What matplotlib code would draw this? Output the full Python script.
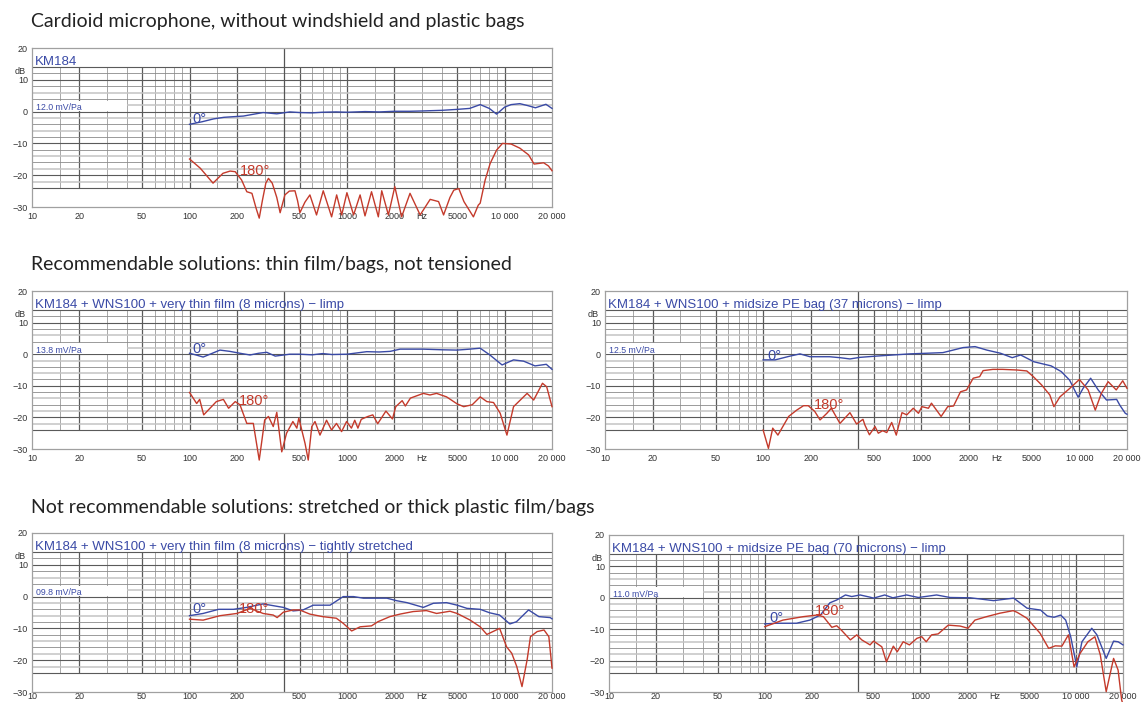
import matplotlib.pyplot as plt
from matplotlib.patches import Rectangle

# ---- data (frequency in Hz, level in dB) ----
# panel 1: KM184 bare
p1_f0 = [100, 120, 142, 165, 190, 220, 250, 293, 358, 433, 500, 600, 700, 850, 1000, 1300, 1600,
         2000, 2500, 3000, 4000, 5000, 6000, 7000, 8000, 8900, 10000, 11000, 12500, 14000, 15700,
         18300, 20000]
p1_db0 = [-4.0, -3.2, -2.3, -1.8, -1.6, -1.4, -0.9, -0.3, -0.7, -0.1, -0.3, -0.4, -0.2, -0.1, -0.2,
          0.0, -0.1, 0.1, 0.1, 0.2, 0.4, 0.7, 1.0, 2.2, 1.0, -0.8, 1.4, 2.2, 2.5, 1.9, 1.2, 2.3, 1.0]
p1_f180 = [100, 117, 141, 163, 181, 195, 214, 231, 249, 265, 277, 290, 305, 317, 335, 358, 376, 403,
           430, 467, 485, 502, 540, 581, 640, 706, 798, 859, 925, 998, 1100, 1210, 1300, 1430, 1580,
           1660, 1830, 2010, 2220, 2510, 2910, 3370, 3810, 4100, 4500, 4760, 5120, 5520, 6340, 6810,
           7000, 7530, 8100, 8900, 9700, 11000, 12500, 14200, 15400, 17700, 19000, 20000]
p1_db180 = [-14.9, -17.8, -22.5, -19.4, -18.7, -18.9, -21.5, -25.2, -25.7, -30.5, -33.5, -28.0, -22.5,
            -21.0, -22.5, -27.0, -31.8, -26.2, -25.0, -24.9, -28.0, -31.8, -28.5, -26.2, -32.5, -24.9,
            -33.1, -26.2, -32.5, -25.5, -32.5, -26.2, -32.8, -25.2, -33.1, -24.9, -32.5, -23.6, -33.1,
            -25.7, -32.5, -27.6, -28.3, -32.5, -27.0, -24.7, -24.2, -28.3, -33.1, -29.4, -28.8, -21.5,
            -16.3, -12.1, -10.0, -10.2, -11.5, -13.6, -16.5, -16.1, -17.1, -18.6]

# panel 2: very thin film, limp
p2_f0 = [100, 111, 122, 135, 156, 180, 209, 242, 275, 309, 350, 433, 500, 600, 700, 800, 1000, 1333,
         1600, 1880, 2170, 3040, 4000, 4990, 6000, 7000, 8070, 9640, 11400, 13200, 15600, 18400, 20000]
p2_db0 = [0.3, -0.3, -0.9, 0.0, 1.3, 0.9, 0.3, -0.25, 0.3, 0.6, -0.6, 0.0, 0.0, -0.2, 0.2, -0.1, 0.0,
          0.8, 0.7, 0.9, 1.6, 1.6, 1.4, 1.3, 1.6, 1.9, -0.25, -3.4, -1.8, -2.2, -3.7, -3.2, -4.8]
p2_f180 = [100, 111, 116, 123, 148, 164, 177, 195, 209, 231, 254, 277, 300, 317, 340, 358, 385, 413,
           453, 480, 494, 541, 567, 597, 626, 673, 741, 797, 857, 923, 993, 1066, 1119, 1172, 1231,
           1357, 1457, 1565, 1765, 1942, 2038, 2238, 2345, 2524, 3050, 3360, 3700, 4280, 4990, 5500,
           6230, 7000, 7720, 8510, 9380, 10350, 11400, 13900, 15300, 17400, 18500, 20000]
p2_db180 = [-12.1, -15.6, -14.3, -19.2, -15.0, -14.3, -17.1, -15.0, -16.0, -21.9, -21.9, -33.5, -20.8,
            -19.7, -22.9, -18.4, -30.9, -25.0, -21.3, -23.4, -20.2, -28.2, -33.5, -22.9, -21.3, -25.6,
            -20.9, -24.0, -21.9, -24.5, -21.3, -23.4, -20.9, -23.4, -20.6, -19.7, -19.2, -22.0, -18.0,
            -20.5, -16.6, -14.7, -16.4, -13.9, -12.4, -12.9, -12.4, -13.5, -15.7, -16.6, -16.0, -13.5,
            -15.0, -15.3, -18.7, -25.6, -16.6, -12.4, -14.5, -9.2, -10.3, -16.6]

# panel 3: midsize PE bag 37 microns, limp
p3_f0 = [100, 119, 148, 171, 198, 263, 306, 354, 409, 520, 846, 1370, 1590, 1840, 2190, 2600, 3170,
         3760, 4250, 5160, 6630, 7680, 8670, 9820, 10550, 11780, 13140, 14840, 17200, 18000, 19500, 20000]
p3_db0 = [-1.8, -1.8, -0.6, 0.1, -0.8, -0.8, -1.1, -1.5, -1.0, -0.6, 0.1, 0.5, 1.3, 2.1, 2.4, 1.3, 0.3,
          -1.1, -0.25, -2.4, -3.7, -5.5, -8.2, -13.6, -10.8, -7.6, -11.3, -14.5, -14.3, -16.1, -18.7, -19.0]
p3_f180 = [100, 108, 115, 124, 145, 163, 180, 193, 212, 229, 253, 270, 306, 354, 390, 428, 440, 470,
           510, 535, 570, 605, 650, 695, 755, 810, 890, 960, 1010, 1110, 1160, 1335, 1470, 1600, 1770,
           1935, 2130, 2340, 2460, 2840, 3270, 4030, 4650, 5110, 5760, 6500, 6900, 7530, 8700, 10000,
           11360, 12600, 13770, 15200, 17100, 18800, 20000]
p3_db180 = [-24.0, -29.8, -23.4, -25.6, -19.7, -17.7, -16.3, -16.3, -18.1, -20.8, -18.7, -17.1, -21.9,
            -18.5, -22.1, -20.6, -22.4, -25.5, -22.9, -25.0, -24.2, -24.8, -21.6, -25.6, -18.5, -19.2,
            -17.1, -18.7, -16.6, -17.1, -15.5, -19.7, -16.6, -16.4, -11.9, -11.3, -7.6, -7.1, -5.2,
            -4.8, -4.8, -5.0, -5.3, -7.1, -9.7, -12.9, -16.6, -13.5, -10.8, -8.0, -11.3, -17.7, -12.4,
            -8.7, -11.3, -8.4, -10.8]

# panel 4: very thin film, tightly stretched
p4_f0 = [100, 122, 153, 190, 230, 293, 394, 455, 525, 610, 780, 945, 1100, 1270, 1790, 2070, 2400,
         3050, 3530, 4280, 5000, 5770, 7000, 8050, 9300, 10800, 11900, 14200, 16500, 19500, 20000]
p4_db0 = [-6.0, -5.3, -4.0, -4.0, -3.4, -2.3, -3.4, -4.5, -4.2, -2.7, -2.7, 0.0, 0.0, -0.5, -0.5, -1.3,
          -1.9, -3.4, -2.1, -1.9, -2.7, -3.7, -4.0, -5.1, -5.8, -8.6, -7.9, -4.2, -6.3, -6.6, -7.0]
p4_f180 = [100, 122, 156, 200, 243, 293, 340, 360, 394, 455, 500, 580, 700, 855, 945, 1070, 1210,
           1430, 1570, 1870, 2170, 2630, 3190, 3700, 4500, 5000, 6050, 7000, 7720, 9300, 10300, 11100,
           11950, 12900, 13900, 14600, 16100, 17800, 19100, 20000]
p4_db180 = [-7.1, -7.4, -6.0, -5.3, -3.7, -5.3, -5.8, -6.6, -4.9, -4.2, -4.2, -5.5, -6.3, -6.8, -8.4,
            -10.8, -9.5, -9.2, -7.9, -6.3, -5.5, -4.7, -4.4, -5.3, -4.6, -5.3, -7.4, -9.5, -11.9, -10.0,
            -15.8, -17.8, -22.0, -28.3, -19.9, -12.6, -11.0, -10.5, -12.6, -22.5]

# panel 5: midsize PE bag 70 microns, limp
p5_f0 = [100, 119, 160, 195, 228, 262, 290, 330, 362, 410, 475, 500, 590, 665, 815, 970, 1270, 1550,
         2090, 2950, 3970, 4840, 5910, 6530, 7210, 7960, 8570, 9230, 10100, 10900, 12600, 13600,
         15600, 17400, 18600, 20000]
p5_db0 = [-8.3, -8.1, -8.1, -7.1, -5.5, -1.6, -0.7, 0.9, 0.4, 0.9, 0.2, -0.1, 0.9, 0.0, 0.9, 0.1, 0.9,
          0.1, 0.0, -0.9, -0.1, -3.3, -3.9, -5.8, -6.2, -5.5, -7.1, -12.4, -22.0, -14.0, -9.7, -11.8,
          -19.3, -13.8, -14.0, -15.0]
p5_f180 = [100, 131, 177, 216, 238, 270, 290, 312, 355, 390, 420, 475, 500, 565, 605, 670, 710, 775,
           850, 950, 1020, 1090, 1180, 1300, 1510, 1800, 2020, 2240, 2660, 3240, 3940, 4170, 4830,
           5870, 6660, 7350, 8100, 8920, 9700, 10600, 11900, 13200, 14300, 15600, 17400, 18600, 19600,
           20000]
p5_db180 = [-9.2, -7.1, -6.0, -5.5, -6.0, -9.4, -8.9, -10.4, -13.4, -11.8, -13.4, -15.0, -13.8, -15.6,
            -20.4, -15.4, -17.2, -14.0, -15.0, -12.9, -12.4, -14.0, -11.8, -11.5, -8.7, -9.0, -9.7,
            -7.1, -6.0, -4.9, -4.1, -4.6, -6.5, -11.3, -16.1, -15.3, -15.4, -11.8, -22.0, -17.7, -14.0,
            -12.4, -18.2, -29.9, -19.3, -23.0, -32.5, -34.0]

headings = ["Cardioid microphone, without windshield and plastic bags",
            "Recommendable solutions: thin film/bags, not tensioned",
            "Not recommendable solutions: stretched or thick plastic film/bags"]
titles = ["KM184",
          "KM184 + WNS100 + very thin film (8 microns) \u2212 limp",
          "KM184 + WNS100 + midsize PE bag (37 microns) \u2212 limp",
          "KM184 + WNS100 + very thin film (8 microns) \u2212 tightly stretched",
          "KM184 + WNS100 + midsize PE bag (70 microns) \u2212 limp"]
sensitivities = ["12.0 mV/Pa", "13.8 mV/Pa", "12.5 mV/Pa", "09.8 mV/Pa", "11.0 mV/Pa"]

xtick_vals = [10, 20, 50, 100, 200, 500, 1000, 2000, 3000, 5000, 10000, 20000]
xtick_labels = ["10", "20", "50", "100", "200", "500", "1000", "2000", "Hz", "5000", "10 000", "20 000"]
ytick_vals = [-30, -20, -10, 0, 10, 20]
ytick_labels = ["\u221230", "\u221220", "\u221210", "0", "10", "20"]

BLUE = '#3a4aa6'
RED = '#c43a2b'
W, H = 1145, 702

fig = plt.figure(figsize=(W / 100, H / 100), dpi=100)
fig.patch.set_facecolor('white')


def draw_panel(box, title, sens, f0, db0, f180, db180, pos0, pos180, xpad=3.5):
    left, top, right, bottom = box
    ax = fig.add_axes([left / W, 1 - bottom / H, (right - left) / W, (bottom - top) / H])
    ax.set_xscale('log')
    ax.set_xlim(10, 20000)
    ax.set_ylim(-30, 20)

    # grid: only inside the -24..14 dB band
    for dec in (10, 100, 1000, 10000):
        for m in (1, 1.5, 2, 3, 4, 5, 6, 7, 8, 9):
            f = dec * m
            if f <= 10 or f >= 20000:
                continue
            major = m in (1, 2, 5)
            ax.vlines(f, -24, 14, color='#5a5a5a' if major else '#a8a8a8',
                      lw=0.9 if major else 0.7, zorder=1)
    for lvl in range(-24, 15, 2):
        if lvl % 10 == 0 or lvl in (14, -24):
            ax.hlines(lvl, 10, 20000, color='#5a5a5a', lw=0.8, zorder=1)
        elif lvl % 4 == 0:
            ax.hlines(lvl, 10, 20000, color='#8a8a8a', lw=0.6, zorder=1)
        else:
            ax.hlines(lvl, 10, 20000, color='#c4c4c4', lw=1.1, zorder=1)
    ax.vlines(400, -30, 20, color='#555555', lw=0.9, zorder=1)

    ax.add_patch(Rectangle((10, 0.15), 30, 3.3, facecolor='white', edgecolor='none', zorder=2))
    ax.text(0.008, 0.4, sens, transform=ax.get_yaxis_transform(), fontsize=6.3, color=BLUE,
            family='Liberation Sans', va='baseline', zorder=3)
    ax.text(0.006, 14.5, title, transform=ax.get_yaxis_transform(), fontsize=9.5, color=BLUE,
            family='Liberation Sans', va='baseline', zorder=3)

    ax.plot(f0, db0, color=BLUE, lw=1.0, zorder=4, clip_on=False)
    ax.plot(f180, db180, color=RED, lw=1.0, zorder=4, clip_on=False)
    ax.text(pos0[0], pos0[1], "0\u00b0", fontsize=10.5, color=BLUE, family='Liberation Sans',
            va='baseline', zorder=5)
    ax.text(pos180[0], pos180[1], "180\u00b0", fontsize=10.5, color=RED, family='Liberation Sans',
            va='baseline', zorder=5)

    ax.set_xticks(xtick_vals, xtick_labels)
    ax.set_xticks([], minor=True)
    ax.set_yticks(ytick_vals, ytick_labels)
    ax.tick_params(length=0, labelsize=6.5, colors='#333333')
    ax.tick_params(axis='x', pad=xpad)
    ax.tick_params(axis='y', pad=3)
    for lab in ax.get_xticklabels() + ax.get_yticklabels():
        lab.set_family('Liberation Sans')
    ax.text(-0.012, 12.6, "dB", transform=ax.get_yaxis_transform(), fontsize=6.5, color='#333333',
            family='Liberation Sans', ha='right', va='center')
    for sp in ax.spines.values():
        sp.set_color('#a0a0a0')
        sp.set_linewidth(0.9)
    return ax


for txt, y in zip(headings, (22, 265, 508)):
    fig.text(31 / W, 1 - y / H, txt, fontsize=14, color='#222222', family='Lato', va='center')

draw_panel((32, 48, 552, 207), titles[0], sensitivities[0], p1_f0, p1_db0, p1_f180, p1_db180,
           (105, -3.7), (209, -19.9))
draw_panel((32, 291, 552, 449), titles[1], sensitivities[1], p2_f0, p2_db0, p2_f180, p2_db180,
           (105, 0.3), (207, -16.0))
draw_panel((605, 291, 1127, 449), titles[2], sensitivities[2], p3_f0, p3_db0, p3_f180, p3_db180,
           (107, -1.8), (210, -17.4))
draw_panel((32, 533, 552, 692), titles[3], sensitivities[3], p4_f0, p4_db0, p4_f180, p4_db180,
           (105, -5.3), (207, -5.1), xpad=0.3)
draw_panel((609, 535, 1123, 692), titles[4], sensitivities[4], p5_f0, p5_db0, p5_f180, p5_db180,
           (107, -7.6), (210, -5.5), xpad=0.3)

fig.savefig('out.png', dpi=100)
